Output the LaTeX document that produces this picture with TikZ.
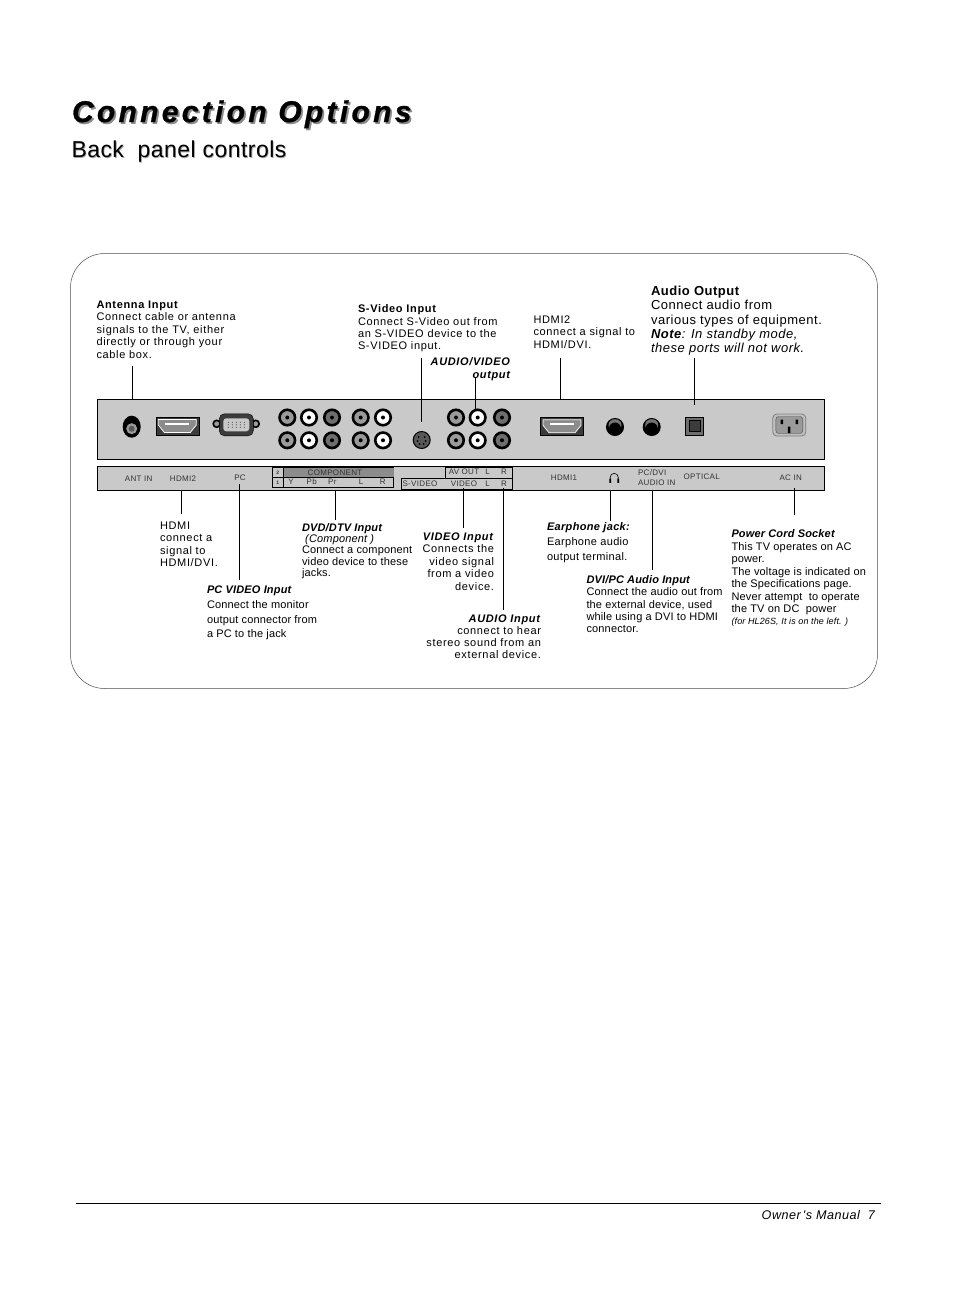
\documentclass[tikz,border=0pt]{standalone}
\usepackage{fontspec}
\setmainfont{Liberation Sans}
\newfontfamily\widefont[LetterSpace=4]{Liberation Sans}
\newfontfamily\notefont[LetterSpace=6]{Liberation Sans}
\newfontfamily\tightfont[LetterSpace=1.5]{Liberation Sans}
\newfontfamily\earfont[LetterSpace=3]{Liberation Sans}
\newfontfamily\subfont[LetterSpace=2]{Liberation Sans}
\newfontfamily\titlefont[LetterSpace=11,FakeBold=0.8]{Liberation Sans}
\usepackage{tikz}
\usetikzlibrary{positioning, calc, shapes.geometric}

\definecolor{panelgray}{HTML}{C9C9C9}
\definecolor{jackgray}{HTML}{9A9A9A}
\definecolor{jackdark}{HTML}{6E6E6E}
\definecolor{portdark}{HTML}{3C3C3C}

\begin{document}
\begin{tikzpicture}[
    x=1pt, y=-1pt,
    every node/.style={inner sep=0pt, outer sep=0pt},
    note/.style={font=\fontsize{11}{12.5}\selectfont\notefont, align=left, anchor=north west},
    noter/.style={note, align=right, anchor=north east},
    notebig/.style={note, font=\fontsize{13}{14.3}\selectfont\widefont},
    lead/.style={draw=black, line width=0.6pt},
    strip/.style={draw=black, line width=0.7pt, fill=panelgray, anchor=north west},
    tag/.style={font=\fontsize{8}{9.6}\selectfont\widefont, text=black!80},
    jack/.style={circle, draw=black, line width=2.6pt, fill=#1, minimum size=15.5pt,
        path picture={\fill[black] (path picture bounding box.center) circle (2pt);}},
    plug/.style={circle, draw=black, line width=1pt, fill=black, minimum size=17pt,
        path picture={\fill[black!55] ([yshift=2pt]path picture bounding box.center) circle (6.5pt);
            \fill[black] ([yshift=-1.5pt]path picture bounding box.center) circle (6pt);}},
    hdmibody/.style={draw=black, fill=portdark, minimum width=43pt, minimum height=18pt},
    vgaear/.style={circle, draw=black, line width=1.6pt, fill=jackgray, minimum size=7pt}
]
    \useasboundingbox (0,0) rectangle (954,1294);

    % Heading
    \node[anchor=base west, text=black!45, font=\fontsize{30}{30}\selectfont\titlefont\bfseries\itshape]
        (titleshade) at (73.8,123.8) {Connection Options};
    \node[anchor=base west, font=\fontsize{30}{30}\selectfont\titlefont\bfseries\itshape]
        (title) at (72,122) {Connection Options};
    \node[anchor=base west, text=black!35, font=\fontsize{23}{23}\selectfont\subfont]
        (subshade) at (72.3,158.3) {Back\ \ panel controls};
    \node[anchor=base west, font=\fontsize{23}{23}\selectfont\subfont]
        (subtitle) at (71.5,157.5) {Back\ \ panel controls};

    % Frame and panels
    \node[draw=black!70, line width=0.5pt, rounded corners=34pt, anchor=north west,
        minimum width=807pt, minimum height=435pt] (frame) at (70.5,253.5) {};
    \node[strip, minimum width=727pt, minimum height=60pt] (panel) at (97.3,399.5) {};
    \node[strip, minimum width=727pt, minimum height=24pt] (labels) at (97.3,466.5) {};

    % Ports on the panel
    \node[ellipse, draw=black, line width=1pt, fill=black, minimum width=17pt, minimum height=21pt,
        path picture={\fill[jackgray] ([yshift=-2pt]path picture bounding box.center) circle (5.5pt);
            \fill[black!65] ([yshift=-2pt]path picture bounding box.center) circle (3pt);}] (antin) at (131.7,426.7) {};
    \node[hdmibody] (hdmitwo) at (177.3,426) {};
    \node[hdmibody] (hdmione) at (562,426.3) {};
    \foreach \c in {hdmitwo, hdmione}{
        \draw[white, line width=0.7pt, fill=black!45, shift={(\c)}] (-19,-6.5) -- (19,-6.5) -- (19,-1) -- (13,6.5) -- (-13,6.5) -- (-19,-1) -- cycle;
        \fill[white, shift={(\c)}] (-12,-3) rectangle (12,-1);
    }

    \node[vgaear] (vgaleft) at (216.7,423.8) {};
    \node[vgaear] (vgaright) at (255.7,423.8) {};
    \node[draw=black, fill=portdark, rounded corners=5pt, minimum width=34pt, minimum height=22pt] (vga) at (236.3,424.8) {};
    \node[fill=panelgray, rounded corners=3pt, minimum width=26pt, minimum height=13pt] (vgapins) at (vga) {};
    \foreach \x in {-8,-4,0,4,8}
        \foreach \y in {-2.5,0,2.5}
            \fill[black!70, shift={(vga)}] (\x,\y) circle (0.6pt);

    % RCA jacks
    \foreach \x/\c [count=\i] in {287.3/jackgray, 309/white, 332/jackdark, 360.7/jackgray, 383/white, 456/jackgray, 477.7/white, 502/jackdark}{
        \node[jack=\c] (up\i) at (\x,417.5) {};
        \node[jack=\c] (dn\i) at (\x,440.3) {};
    }
    \node[circle, draw=black, fill=jackdark!80!black, line width=1pt, minimum size=17pt] (svideo) at (421.7,440) {};
    \foreach \a/\b in {-3/-3, 3/-3, -4/1, 4/1, -2/4, 2/4}
        \fill[black, shift={(svideo)}] (\a,\b) circle (1pt);

    \node[plug] (earjack) at (615,427) {};
    \node[plug] (pcaudio) at (651.7,427) {};
    \node[draw=black, line width=1pt, fill=jackdark, minimum size=18pt] (optical) at (694.6,426) {};
    \node[draw=black, fill=portdark, minimum size=11pt] (opticalcore) at (optical) {};
    \node[draw=black!50, line width=0.8pt, fill=black!25, rounded corners=4pt, minimum width=33pt, minimum height=22pt] (acin) at (789.3,425) {};
    \node[draw=black!70, fill=jackgray, rounded corners=3pt, minimum width=27pt, minimum height=17pt] (acface) at (acin) {};
    \fill[black] (780.5,419.5) rectangle (783,424) (795.5,419.5) rectangle (798,424) (787.8,426.5) rectangle (790.3,433);

    % Label strip
    \node[draw=black, line width=0.6pt, anchor=north west, minimum width=121.4pt, minimum height=19.4pt] (compbox) at (272.3,467.5) {};
    \node[fill=black!45, anchor=north west, minimum width=110.4pt, minimum height=9.5pt] (compband) at (283.3,467.5) {};
    \draw[line width=0.6pt] (compbox.west) -- (compbox.east) (compband.north west) -- (compband.north west |- compbox.south);
    \node[tag, font=\fontsize{5}{5}\selectfont\bfseries] (rowtwo) at (277.8,472.8) {2};
    \node[tag, font=\fontsize{5}{5}\selectfont\bfseries] (rowone) at (277.8,482.5) {1};
    \node[tag] (comptag) at (335,473) {COMPONENT};
    \node[draw=black, line width=0.6pt, anchor=north west, minimum width=111.3pt, minimum height=11.2pt] (svbox) at (401,478.4) {};
    \node[draw=black, line width=0.6pt, anchor=north west, minimum width=67.3pt, minimum height=11.4pt] (avbox) at (445,467) {};
    \foreach \x/\y/\t [count=\i] in {138.7/479/ANT IN, 183/479/HDMI2, 240/478/PC, 291/481.5/Y, 311.7/481.5/Pb, 332.3/481.5/Pr, 361/481.5/L, 382.7/481.5/R,
        420/484/S-VIDEO, 464/472/AV OUT, 487.7/472/L, 504/472/R, 464/483.5/VIDEO, 487.7/483.5/L, 504/483.5/R, 564/478/HDMI1, 701.7/477/OPTICAL, 790.7/478/AC IN}
        \node[tag] (tag\i) at (\x,\y) {\t};
    \node[tag, align=left, anchor=north west] (pcdvi) at (638,470) {PC/DVI\\AUDIO IN};
    \draw[line width=0.6pt] (610.2,480) -- (610.2,477.3) arc[start angle=180, end angle=360, radius=4] -- (618.2,480);
    \fill (609.4,478.5) rectangle (611,482.8) (617.4,478.5) rectangle (619,482.8);

    % Texts above the panel
    \node[note] (antnote) at (96.5,300.5) {\textbf{Antenna Input}\\Connect cable or antenna\\signals to the TV, either\\directly or through your\\cable box.};
    \node[note, font=\fontsize{11}{12.2}\selectfont\notefont] (svnote) at (358,305) {\textbf{S-Video Input}\\Connect S-Video out from\\an S-VIDEO device to the\\S-VIDEO input.};
    \node[noter, font=\fontsize{11}{13}\selectfont\notefont\bfseries\itshape] (avnote) at (510,358) {AUDIO/VIDEO\\output};
    \node[note] (hdmitwonote) at (533.5,315.5) {HDMI2\\connect a signal to\\HDMI/DVI.};
    \node[notebig] (audionote) at (651,286) {\textbf{Audio Output}\\Connect audio from\\various types of equipment.\\\textbf{\textit{Note}}\textit{: In standby mode,}\\\textit{these ports will not work.}};

    % Texts below the panel
    \node[note] (hdminote) at (160,521.5) {HDMI\\connect a\\signal to\\HDMI/DVI.};
    \node[note, font=\fontsize{11}{14.7}\selectfont\tightfont] (pcnote) at (207,586) {\textbf{\textit{PC VIDEO Input}}\\Connect the monitor\\output connector from\\a PC to the jack};
    \node[note, font=\fontsize{11}{11.2}\selectfont\tightfont] (dvdnote) at (302,523.5) {\textbf{\textit{DVD/DTV Input}}\\\ \textit{(Component )}\\Connect a component\\video device to these\\jacks.};
    \node[noter] (videonote) at (494,532.7) {\textbf{\textit{VIDEO Input}}\\Connects the\\video signal\\from a video\\device.};
    \node[noter, font=\fontsize{11}{12}\selectfont\notefont] (audionotetwo) at (541,615) {\textbf{\textit{AUDIO Input}}\\connect to hear\\stereo sound from an\\external device.};
    \node[note, font=\fontsize{11}{15}\selectfont\earfont] (earnote) at (547,523) {\textbf{\textit{Earphone jack:}}\\Earphone audio\\output terminal.};
    \node[note, font=\fontsize{11}{12.3}\selectfont\tightfont] (dvinote) at (586.5,575.7) {\textbf{\textit{DVI/PC Audio Input}}\\Connect the audio out from\\the external device, used\\while using a DVI to HDMI\\connector.};
    \node[note, font=\fontsize{11}{12.5}\selectfont\tightfont] (powernote) at (731.5,530) {\textbf{\textit{Power Cord Socket}}\\This TV operates on AC\\power.\\The voltage is indicated on\\the Specifications page.\\Never attempt\ \ to operate\\the TV on DC\ \ power\\[-1pt]{\fontsize{9}{9}\selectfont\textit{(for HL26S, It is on the left. )}}};

    % Leader lines above
    \coordinate (antlead) at (132,366);
    \coordinate (svlead) at (421.5,358);
    \coordinate (svend) at (421.5,421.5);
    \coordinate (avlead) at (475.5,378);
    \coordinate (hdmitwolead) at (560.5,358);
    \coordinate (oplead) at (694.5,358);
    \coordinate (opend) at (694.5,405);
    \draw[lead] (antlead) -- (antlead |- panel.north);
    \draw[lead] (svlead) -- (svend);
    \draw[lead] (avlead) -- (avlead |- up7.north);
    \draw[lead] (hdmitwolead) -- (hdmitwolead |- panel.north);
    \draw[lead] (oplead) -- (opend);

    % Leader lines below
    \coordinate (hdmilead) at (181.5,514);
    \coordinate (pclead) at (239.5,580);
    \coordinate (pcend) at (239.5,484);
    \coordinate (dvdlead) at (335,520);
    \coordinate (videolead) at (463,528);
    \coordinate (videoend) at (463,488);
    \coordinate (audiolead) at (503.5,610);
    \coordinate (audioend) at (503.5,488);
    \coordinate (earlead) at (610,521);
    \coordinate (dvilead) at (652.5,570);
    \coordinate (aclead) at (794.5,515);
    \coordinate (acend) at (794.5,488);
    \draw[lead] (hdmilead) -- (hdmilead |- labels.south);
    \draw[lead] (pclead) -- (pcend);
    \draw[lead] (dvdlead) -- (dvdlead |- labels.south);
    \draw[lead] (videolead) -- (videoend);
    \draw[lead] (audiolead) -- (audioend);
    \draw[lead] (earlead) -- (earlead |- labels.south);
    \draw[lead] (dvilead) -- (dvilead |- labels.south);
    \draw[lead] (aclead) -- (acend);

    % Footer
    \coordinate (ruleleft) at (76,1203.5);
    \coordinate (ruleright) at (881,1203.5);
    \draw[line width=0.6pt] (ruleleft) -- (ruleright);
    \node[anchor=base east, font=\fontsize{12.6}{12.6}\selectfont\widefont\itshape] (footer) at (875,1219) {Owner\,'s Manual\ \ 7};
\end{tikzpicture}
\end{document}
